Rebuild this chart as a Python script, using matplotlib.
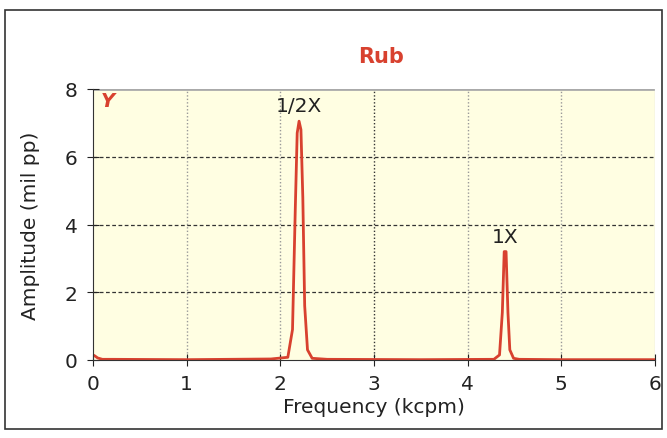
import matplotlib
matplotlib.use("Agg")
import matplotlib.pyplot as plt
from matplotlib.patches import Rectangle

# spectrum (kcpm, mil pp)
freq = [0.0, 0.02, 0.05, 0.1, 0.2, 1.0, 1.9, 2.08, 2.13, 2.16, 2.18, 2.2,
        2.22, 2.24, 2.26, 2.29, 2.34, 2.5, 3.5, 4.28, 4.34, 4.37, 4.39, 4.41,
        4.43, 4.45, 4.49, 4.55, 5.0, 6.0]
amp = [0.15, 0.12, 0.06, 0.02, 0.02, 0.01, 0.03, 0.08, 0.9, 4.5, 6.7, 7.05,
       6.8, 4.8, 1.6, 0.3, 0.05, 0.02, 0.01, 0.02, 0.15, 1.4, 3.2, 3.2,
       1.4, 0.3, 0.05, 0.02, 0.01, 0.01]

peak_labels = ["1/2X", "1X"]
peak_pos = [(2.2, 7.1), (4.4, 3.25)]

RED = "#d8412f"

fig = plt.figure(figsize=(6.67, 4.39), dpi=100)
fig.patches.append(Rectangle((5/667, 9/439), 657/667, 419/439, transform=fig.transFigure,
                             fill=False, edgecolor="#333333", lw=1.2))
ax = fig.add_axes([93/667, 1 - 361/439, 562/667, 271/439])
ax.set_facecolor("#fffee2")

ax.plot(freq, amp, color=RED, lw=2)

ax.set_xlim(0, 6); ax.set_ylim(0, 8)
ax.set_xticks(range(7)); ax.set_yticks([0, 2, 4, 6, 8])
for x in [1, 2, 4, 5]:
    ax.axvline(x, color="#999999", ls=(0, (1, 1.5)), lw=1, zorder=0)
ax.axvline(3, color="#333333", ls=(0, (1, 1.5)), lw=1, zorder=0)
for y in [2, 4, 6]:
    ax.axhline(y, color="#333333", ls=(0, (3, 2)), lw=0.9, zorder=0)

for s in ["top", "right"]:
    ax.spines[s].set_visible(False)
ax.axhline(8, color="#aaaaaa", lw=2, zorder=1)
ax.axvline(6, color="#dddddd", lw=1, zorder=1)
ax.spines["left"].set_color("#333333")
ax.spines["bottom"].set_color("#333333")
ax.tick_params(direction="inout", length=8, labelsize=14.5, colors="#222222")
ax.tick_params(axis="x", pad=6)
ax.tick_params(axis="y", pad=7)

ax.set_xlabel("Frequency (kcpm)", fontsize=14.5, color="#222222", labelpad=3)
ax.set_ylabel("Amplitude (mil pp)", fontsize=14.5, color="#222222", labelpad=18)

for lab, (x, y) in zip(peak_labels, peak_pos):
    ax.text(x, y + 0.12, lab, ha="center", va="bottom", fontsize=14.5, color="#222222")
ax.text(0.08, 7.95, "Y", ha="left", va="top", fontsize=14, color=RED,
        fontweight="bold", style="italic")

fig.text(381/667, 1 - 57/439, "Rub", ha="center", va="center", fontsize=15,
         color=RED, fontweight="bold")

fig.savefig("out.png", dpi=100)
